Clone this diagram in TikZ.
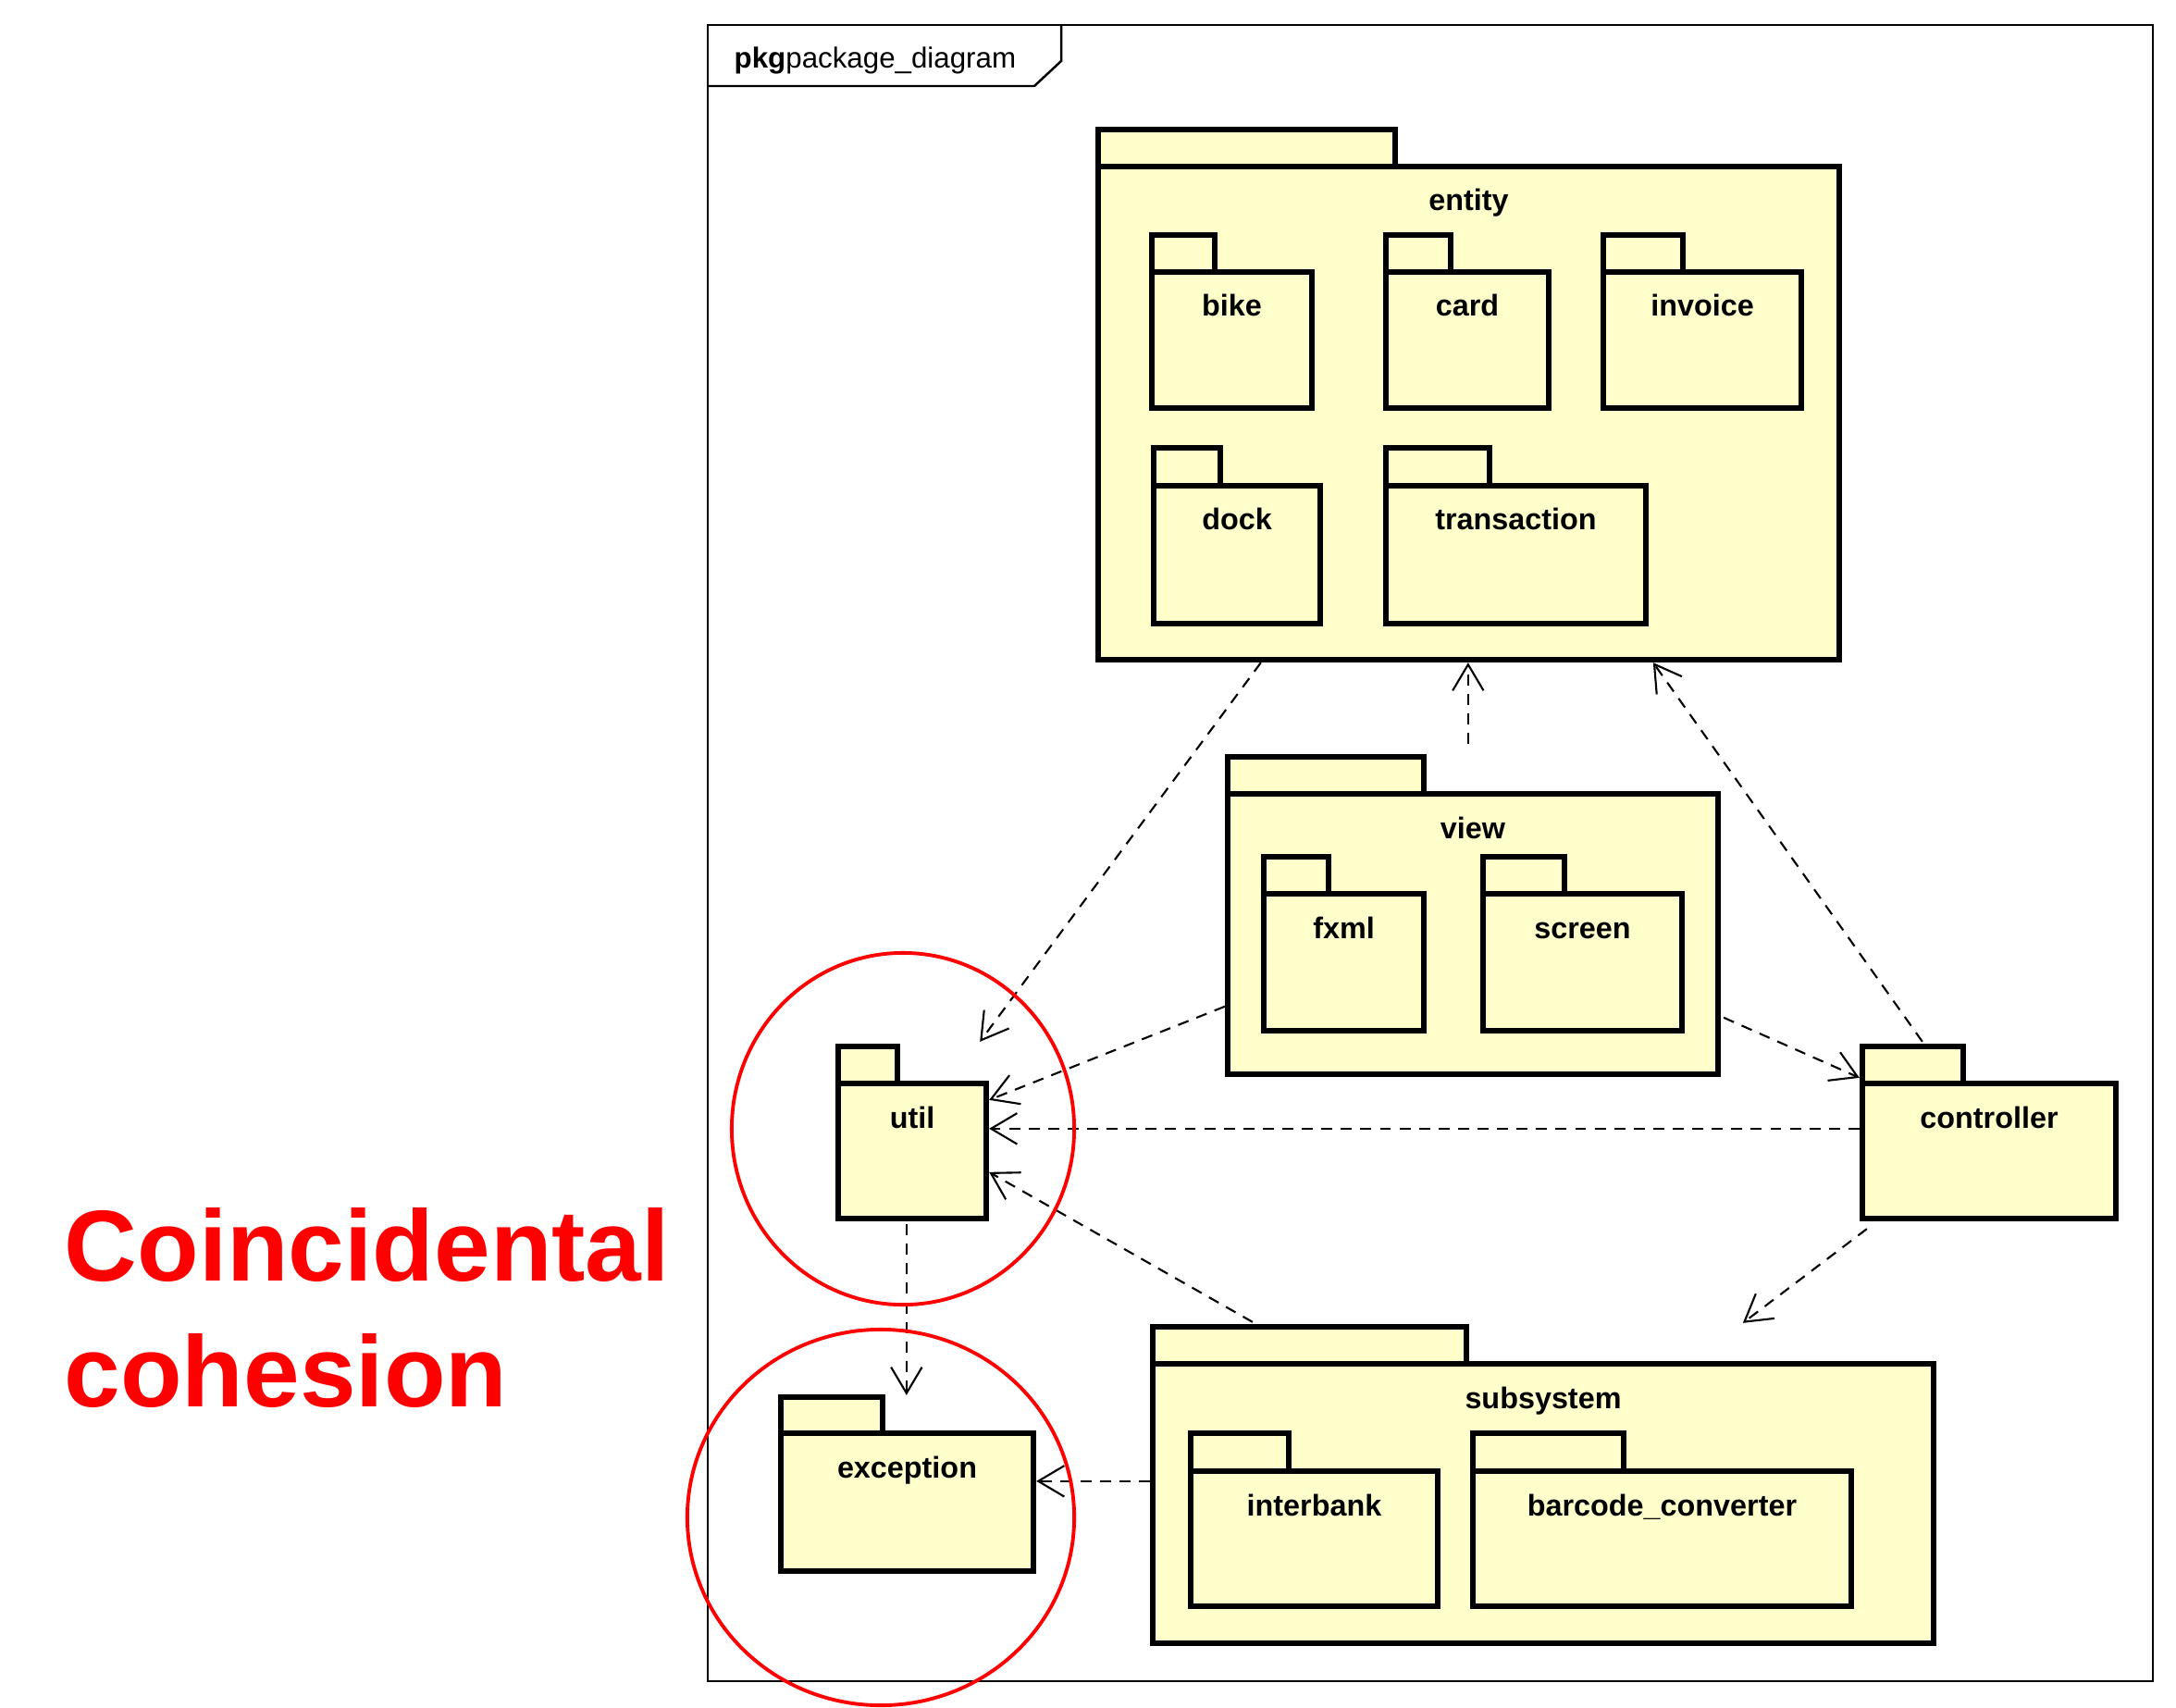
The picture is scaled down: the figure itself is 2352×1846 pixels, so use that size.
\documentclass[tikz,border=0pt]{standalone}
\usepackage{fontspec}
\setmainfont{Liberation Sans}
\usetikzlibrary{arrows.meta,fit,calc}
\definecolor{pkgfill}{RGB}{255,255,204}
\definecolor{hlred}{RGB}{255,0,0}
\tikzset{
  x=0.01cm, y=-0.01cm,
  pkgline/.style={draw=black, line width=1.8pt, fill=pkgfill},
  pkgbody/.style={pkgline, inner sep=0pt, rectangle},
  pkglbl/.style={font=\bfseries\fontsize{9.2}{11}\selectfont, anchor=base, inner sep=0pt},
  dep/.style={draw=black, line width=0.6pt, dash pattern=on 3.4pt off 2.6pt, -{Straight Barb[length=8pt,width=9.5pt]}},
  hlcircle/.style={draw=hlred, line width=1.1pt},
  framebox/.style={draw=black, line width=0.7pt},
  bigred/.style={text=hlred, font=\bfseries\fontsize{31}{38}\selectfont, anchor=base west, inner sep=0pt},
}
\newcommand\umlpkg[8]{%
  \draw[pkgline] (#2,#7) rectangle (#6,#3);
  \node[pkgbody, fit={(#2,#3)(#4,#5)}] (#1) {};
  \node[pkglbl] (#1-lbl) at ({(#2+#4)/2},{#3+48}) {#8};
}
\begin{document}
\begin{tikzpicture}
\useasboundingbox (0,0) rectangle (2352,1846);
% frame
\node[framebox, inner sep=0pt, fit={(765,27)(2327,1817)}] (frame) {};
\draw[framebox] (765,93) -- (1118,93) -- (1147,66) -- (1147,27);
\node[anchor=base west, inner sep=0pt, font=\fontsize{8.9}{11}\selectfont] (title) at (793,74) {\textbf{pkg}package\_diagram};
% packages
\umlpkg{entity}{1187}{180}{1988}{713}{1508}{140}{entity}
\umlpkg{bike}{1245}{294}{1418}{441}{1313}{254}{bike}
\umlpkg{card}{1498}{294}{1674}{441}{1568}{254}{card}
\umlpkg{invoice}{1733}{294}{1947}{441}{1819}{254}{invoice}
\umlpkg{dock}{1247}{525}{1427}{674}{1319}{484}{dock}
\umlpkg{transaction}{1498}{525}{1779}{674}{1610}{484}{transaction}
\umlpkg{view}{1327}{858}{1857}{1161}{1539}{818}{view}
\umlpkg{fxml}{1366}{966}{1539}{1114}{1436}{926}{fxml}
\umlpkg{screen}{1603}{966}{1818}{1114}{1691}{926}{screen}
\umlpkg{util}{906}{1171}{1066}{1317}{970}{1131}{util}
\umlpkg{controller}{2013}{1171}{2287}{1317}{2122}{1131}{controller}
\umlpkg{exception}{844}{1549}{1117}{1698}{954}{1510}{exception}
\umlpkg{subsystem}{1246}{1474}{2090}{1776}{1585}{1434}{subsystem}
\umlpkg{interbank}{1287}{1590}{1554}{1736}{1393}{1549}{interbank}
\umlpkg{barcode}{1592}{1590}{2001}{1736}{1755}{1549}{barcode\_converter}
% dependencies
\draw[dep] ($(entity.south west)+(179,0)$) -- ($(util.north east)+(-10,-42)$);
\draw[dep] ($(view.north west)+(263,-51)$) -- ($(entity.south west)+(403,0)$);
\draw[dep] ($(controller.north west)+(68,-42)$) -- ($(entity.south west)+(603,0)$);
\draw[dep] ($(view.north west)+(0,233)$) -- ($(util.north east)+(0,21)$);
\draw[dep] ($(view.north east)+(3,245)$) -- ($(controller.north west)+(0,-3)$);
\draw[dep] ($(controller.north west)+(0,52)$) -- ($(util.north east)+(0,52)$);
\draw[dep] ($(subsystem.north west)+(111,-42)$) -- ($(util.north east)+(0,99)$);
\draw[dep] ($(controller.south west)+(8,8)$) -- ($(subsystem.north west)+(641,-41)$);
\draw[dep] ($(util.south west)+(77,3)$) -- ($(exception.north west)+(139,-38)$);
\draw[dep] ($(subsystem.north west)+(0,130)$) -- ($(exception.north east)+(0,55)$);
% highlight circles
\draw[hlcircle] (976,1220) ellipse [x radius=1.85cm, y radius=1.90cm];
\draw[hlcircle] (952,1640) ellipse [x radius=2.09cm, y radius=2.03cm];
% caption
\node[bigred] (cap1) at (69,1384) {Coincidental};
\node[bigred] (cap2) at (69,1520) {cohesion};
\end{tikzpicture}
\end{document}
